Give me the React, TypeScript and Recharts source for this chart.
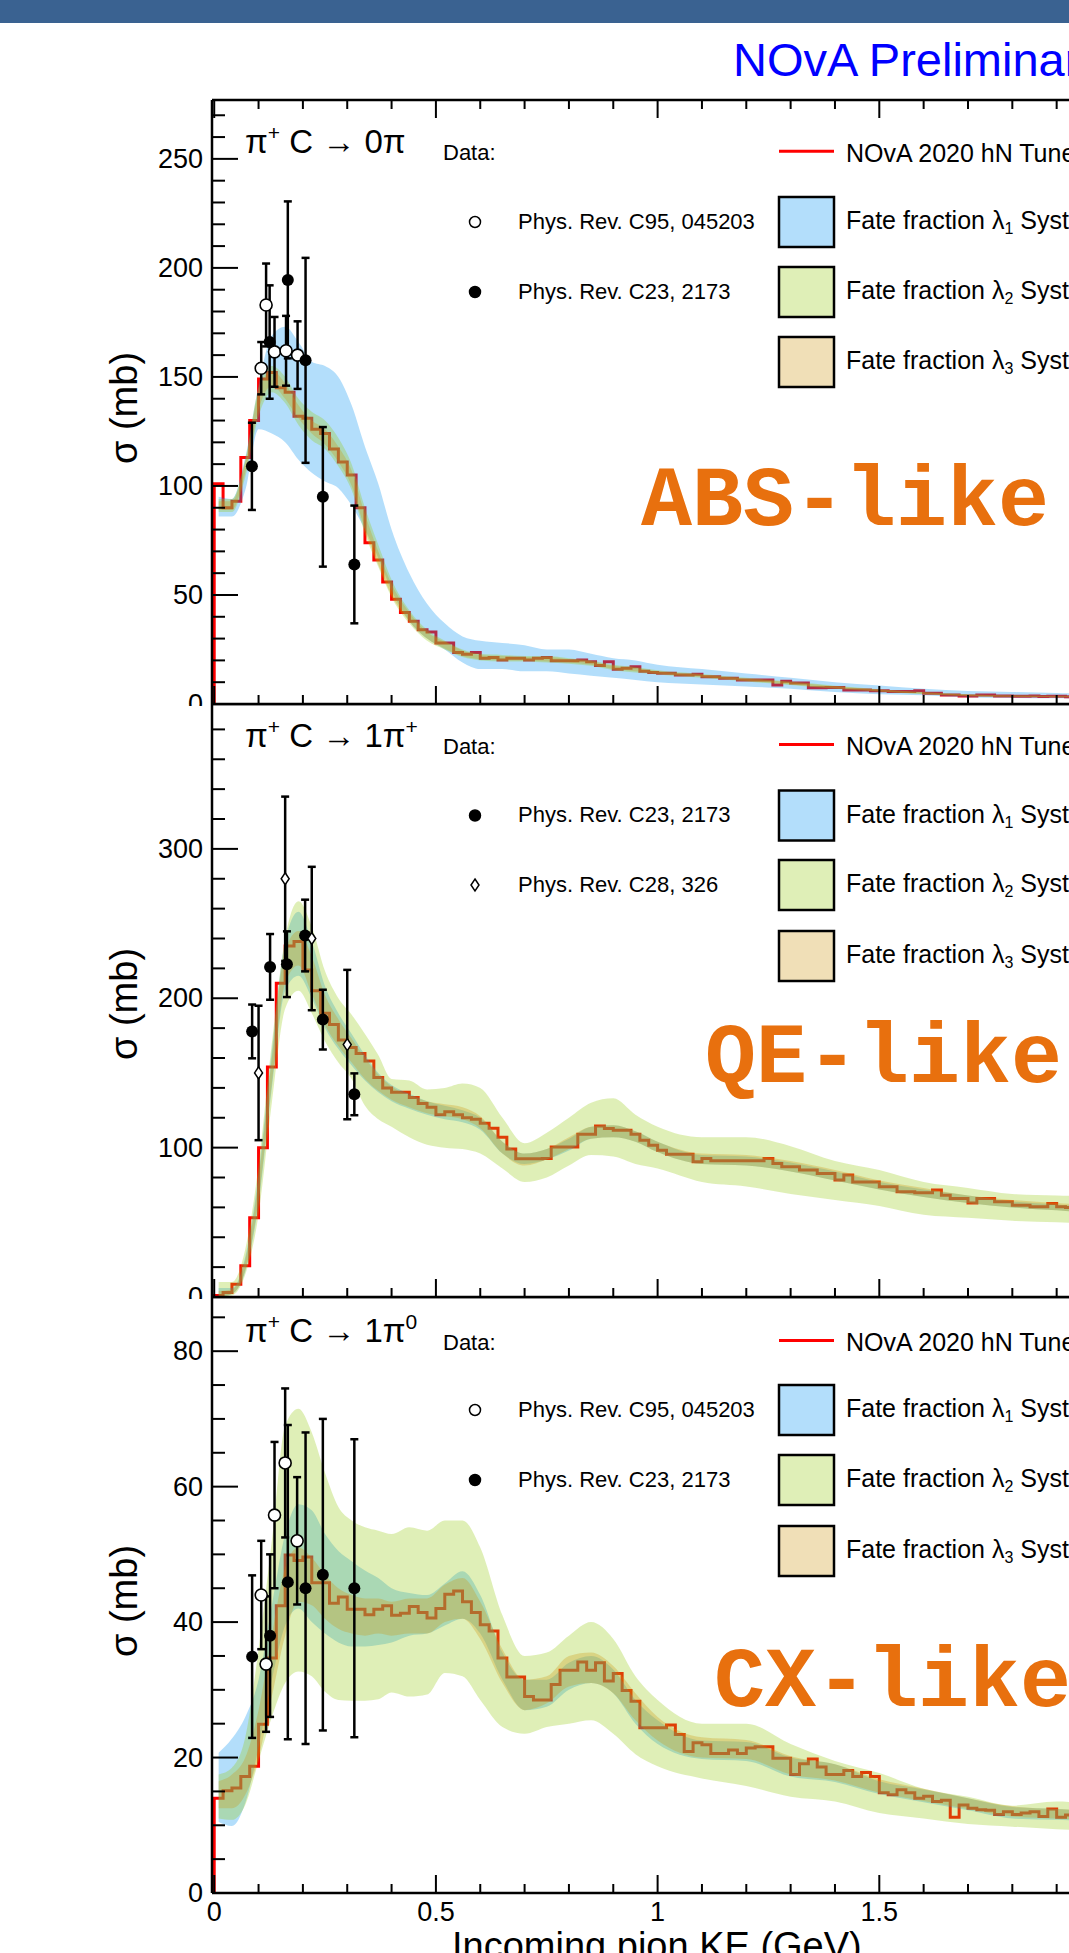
import React from 'react';
import { ComposedChart, Line, Area, Scatter, ErrorBar, XAxis, YAxis } from 'recharts';

// ---------------- data ----------------
const BIN_W = 0.02;

const ABS_BINS = [
  101, 90, 93, 113, 130, 149, 152, 145, 143, 132,
  131, 126, 124, 117, 111, 105, 90, 74, 66, 56,
  48, 42, 38, 34, 33, 28, 28, 23.6, 22.8, 23.6,
  21, 21.3, 20.2, 21, 21, 20.2, 21, 21.3, 19.8, 19.8,
  19.8, 20.2, 19.4, 17.7, 19.4, 15.9, 16.4, 17.1, 15, 14.5,
  14.1, 14.1, 13.3, 13.3, 13.7, 12.5, 12.5, 11.8, 11.8, 11,
  11, 11, 11, 8.7, 10.4, 9.6, 9.6, 7.5, 7.5, 7.6,
  7.6, 6.4, 6.4, 6.4, 6.1, 6.1, 5.7, 5.7, 5.7, 6.1,
  4.9, 4.9, 4.1, 4.1, 3.7, 3.7, 4.1, 4.1, 3.7, 3.7,
  3.5, 3.5, 3.7, 3.4, 3.5, 3.5, 3.3, 3.4, 3.2, 3.2,
];

const QE_BINS = [
  1, 3, 8.5, 21, 53, 100, 154, 210, 235, 238,
  219, 205, 190, 182.5, 172, 167, 163, 158, 147, 140,
  137, 137, 133.6, 129.6, 127, 122, 124, 122, 120, 119,
  116.4, 113, 107, 99, 92.6, 92.6, 92.6, 92.8, 100.5, 100.5,
  100.5, 109, 109, 114.4, 112.8, 111.7, 111.7, 109, 105, 101.6,
  98.2, 95.5, 95.5, 95.5, 90.5, 92.8, 91.3, 91.3, 91.3, 91.3,
  91.3, 91.3, 92.8, 89.4, 87.2, 87.2, 85, 85, 82.7, 82.7,
  78.3, 81.6, 77, 77, 77, 73.8, 73.8, 70.5, 70.5, 69.8,
  69.8, 71.6, 68.2, 66, 66, 63, 66, 66, 63.8, 63.8,
  61.5, 61.5, 60.4, 60.4, 62.6, 60.4, 60, 59, 59, 58,
];

const CX_BINS = [
  14, 15.1, 15.5, 17.2, 18.7, 24.9, 34.7, 42.4, 49.9, 49.1,
  49.6, 45.8, 45.8, 42.8, 43.7, 41.9, 41.9, 41.1, 41.9, 42.4,
  41, 41.3, 42.3, 41.4, 40.6, 42, 44.1, 44.6, 43, 41.4,
  39.6, 38.7, 34.7, 31.9, 31.9, 29, 28.5, 28.5, 30.8, 32.9,
  32.9, 34.1, 32.9, 34.0, 31.3, 32.4, 29.9, 28.3, 24.4, 24.4,
  24.4, 24.8, 23.4, 20.9, 22.2, 21.9, 20.6, 20.6, 21.1, 20.6,
  21.4, 21.6, 21.6, 19.9, 19.9, 17.5, 19.1, 19.8, 18.6, 17.5,
  17.5, 18.1, 17.2, 17.8, 17.2, 14.8, 14.5, 15.25, 14.8, 14.0,
  14.3, 13.5, 13.7, 11.2, 13.0, 12.5, 12.3, 12.2, 11.6, 12.0,
  11.6, 11.8, 12.0, 11.3, 12.4, 11.2, 11.5, 11.3, 11.0, 10.8,
];

const BAND_X = [0.01, 0.04, 0.07, 0.10, 0.13, 0.16, 0.19, 0.22, 0.25, 0.28, 0.31, 0.34, 0.37, 0.40, 0.44, 0.48, 0.52, 0.56, 0.60, 0.65, 0.70, 0.75, 0.80, 0.85, 0.90, 0.95, 1.00, 1.10, 1.20, 1.30, 1.40, 1.50, 1.60, 1.70, 1.80, 1.90, 2.00];

const ABS_BLUE = [[86,95],[86,94],[98,113],[126,146],[124,169],[120,173],[112,166],[106,157],[102,155],[99,150],[91,137],[80,118],[67,101],[52,80],[38,60],[30,46],[25,37],[19,31],[16,29],[16,28],[15,27],[15,25],[14,25],[13,23],[12,21],[11,20],[10,18],[9,16],[8,14],[7,12],[5.5,10],[4.5,8.5],[4,7],[3,6],[2.8,5.5],[2.6,5],[2.5,4.6]];
const ABS_GREEN = [[88,94],[88,94],[104,112],[132,145],[143,155],[138,150],[128,140],[121,134],[117,130],[109,122],[98,110],[78,90],[63,73],[49,57],[37,43],[29,34],[25,29],[21.5,25],[20,23],[19.5,22.5],[19.5,22],[19,22],[18.5,21],[17.5,20],[15.5,18],[14.5,17],[13.5,15.5],[12,13.8],[10.3,12],[8.7,10.3],[7,8.4],[5.6,6.8],[4.5,5.5],[3.6,4.5],[3.2,4],[3.1,3.8],[3,3.6]];
const ABS_TAN = [[89,93],[89,93],[106,111],[135,143],[146,153],[140,147],[131,137],[124,130],[119,126],[111,118],[100,107],[80,87],[64,70],[50,55],[38,42],[30,33],[25.5,28.5],[22,24.5],[20.5,22.5],[20,22],[20,21.5],[19.5,21.5],[19,20.5],[18,19.5],[16,17.5],[15,16.5],[14,15],[12.4,13.4],[10.7,11.6],[9,10],[7.3,8.1],[5.9,6.5],[4.7,5.3],[3.8,4.3],[3.4,3.8],[3.2,3.6],[3.1,3.4]];

const QE_BLUE = [[0,6],[2,6],[17,27],[62,82],[140,165],[205,238],[215,258],[200,238],[180,208],[166,190],[155,176],[145,162],[137,150],[131,142],[126,136],[122,131],[119,128],[117,125],[112,120],[96,104],[89,96],[92,99],[98,106],[106,114],[107,115],[104,111],[97,104],[89,95],[88,94],[84,90],[78,84],[72,77],[67,72],[63,68],[60,64],[58,62],[56,60]];
const QE_GREEN = [[0,10],[1,10],[15,32],[55,88],[130,170],[193,240],[205,265],[190,248],[171,218],[157,200],[146,189],[128,176],[119,162],[114,146],[107,145],[102,139],[100,140],[99,143],[96,140],[86,120],[77,103],[80,110],[88,120],[95,130],[94,133],[89,122],[86,114],[77,107],[74,107],[69,101],[65,91],[61,85],[55,77],[53,73],[51,69],[50,68],[49,67]];
const QE_TAN = [[0,4],[2,5],[18,25],[65,78],[143,160],[210,232],[222,245],[203,228],[182,202],[168,186],[157,173],[146,160],[138,149],[132,141],[127,135],[123,131],[121,129],[119,127],[113,121],[96,104],[88,96],[92,99],[99,107],[106,114],[107,115],[104,111],[97,104],[89,96],[88,95],[84,91],[78,85],[72,78],[67,73],[63,68],[60,65],[58,63],[56,61]];

const CX_BLUE = [[10.5,20.7],[9.9,22.8],[13.3,26],[21.5,31.5],[31.5,42.5],[39.5,53],[42,57.4],[40,56.5],[38.3,53],[37,50.5],[36.4,49],[36.4,47.6],[36.6,46.5],[37,45],[38,44.3],[38.3,44],[39.5,45.7],[40.5,47.5],[38.3,44],[31.5,35.5],[27,31.5],[27.5,31.5],[30,34],[31,35],[29.5,33],[25,28.5],[22,25.5],[19.8,22.5],[19.5,22.3],[17.2,20],[16.4,19],[14.6,16.5],[13.4,15.3],[12.2,14],[11,12.7],[10.8,12.4],[10.6,12]];
const CX_GREEN = [[11,17.5],[10.8,18.5],[13,23],[19.5,36],[26,52],[31,69],[32.7,71.5],[32,68],[29.7,62],[28.5,57],[28.4,55],[28.4,54],[28.6,53.5],[29.6,53],[29,54],[29.3,53.5],[32.5,55],[32,55],[28.5,51],[24.5,41],[23.5,35],[24.5,35.5],[25,38],[25.5,40],[23.5,37.5],[20.5,32],[18.7,28.5],[16.9,25],[15.8,25],[14.2,22],[13.5,19.5],[11.8,17.7],[11,15.4],[10.2,14.2],[9.8,12.9],[9.4,13.5],[9.2,13]];
const CX_TAN = [[12.5,16.5],[12.5,17.5],[14.5,20],[20,27],[29,38],[38,48],[43,51],[42.5,49.5],[40.5,47],[39,45],[38.3,44],[38,43.5],[38.3,43.5],[38,43],[38.3,43.5],[38.3,43.5],[40,45.5],[40.5,46.5],[37.5,43],[31,36],[27,31.5],[28,32],[30.5,35],[31,35.5],[29.5,33.5],[25.5,29.5],[22.5,26],[20,23],[19.8,22.6],[17.5,20.2],[16.6,19],[14.8,16.8],[13.6,15.4],[12.4,14],[11.3,12.8],[11,12.4],[10.8,12.2]];

// measurements: x (GeV), y (mb), e (symmetric error)
const ABS_C95 = [{x:0.106,y:154,e:12},{x:0.117,y:183,e:19},{x:0.136,y:161.5,e:16},{x:0.162,y:162,e:16},{x:0.188,y:160,e:15.5}];
const ABS_C23 = [{x:0.085,y:109,e:20},{x:0.125,y:166,e:26},{x:0.166,y:194.5,e:36},{x:0.206,y:157.6,e:47},{x:0.245,y:95,e:32},{x:0.316,y:64,e:27}];
const QE_C23 = [{x:0.0855,y:177.8,e:18},{x:0.126,y:221,e:22},{x:0.164,y:222.8,e:22},{x:0.205,y:242,e:24},{x:0.245,y:185.7,e:20},{x:0.316,y:135.7,e:14}];
const QE_C28 = [{x:0.1,y:150,e:45},{x:0.16,y:280,e:55},{x:0.22,y:240,e:48},{x:0.3,y:169,e:50}];
const CX_C95 = [{x:0.106,y:44,e:8},{x:0.117,y:33.8,e:10},{x:0.136,y:55.8,e:10.8},{x:0.16,y:63.5,e:11},{x:0.187,y:52,e:9.4}];
const CX_C23 = [{x:0.0855,y:34.9,e:12},{x:0.126,y:38,e:12},{x:0.166,y:45.9,e:23.2},{x:0.206,y:45,e:23},{x:0.245,y:47,e:23},{x:0.316,y:45,e:22}];

const X_TICKS = [0, 0.1, 0.2, 0.3, 0.4, 0.5, 0.6, 0.7, 0.8, 0.9, 1, 1.1, 1.2, 1.3, 1.4, 1.5, 1.6, 1.7, 1.8, 1.9, 2];
const X_MAJOR = [0, 0.5, 1, 1.5, 2];
const X_LABELS = ['0', '0.5', '1', '1.5', '2'];
const ABS_Y_TICKS = [0,10,20,30,40,50,60,70,80,90,100,110,120,130,140,150,160,170,180,190,200,210,220,230,240,250,260,270];
const ABS_Y_MAJOR = [0, 50, 100, 150, 200, 250];
const QE_Y_TICKS = [0,20,40,60,80,100,120,140,160,180,200,220,240,260,280,300,320,340,360,380];
const QE_Y_MAJOR = [0, 100, 200, 300];
const CX_Y_TICKS = [0,5,10,15,20,25,30,35,40,45,50,55,60,65,70,75,80,85];
const CX_Y_MAJOR = [0, 20, 40, 60, 80];

// ---------------- style ----------------
const FONT = '"Liberation Sans", Arial, Helvetica, sans-serif';
const MONO = '"Courier New", "Liberation Mono", monospace';
const CHART_W = 1130;
const PL = 212;   // plot left
const PR = 1101;  // plot right (x = 2 GeV)
const VIEW_W = 1069;
const AXIS = { stroke: '#000', strokeWidth: 2.5 };
const BAND_ALPHA = 0.3;
const C_BLUE = '#0291f2';
const C_GREEN = '#94ca0f';
const C_TAN = '#cd940f';
const L_BLUE = '#b3defb';
const L_GREEN = '#dfefb7';
const L_TAN = '#f0dfb7';
const ORANGE = '#e8700e';

const FilledDot = (p: any) => <circle cx={p.cx} cy={p.cy} r={6} fill="#000" />;
const OpenDot = (p: any) => <circle cx={p.cx} cy={p.cy} r={6} fill="#fff" stroke="#000" strokeWidth={1.6} />;
const DiamondDot = (p: any) => (
  <path d={`M${p.cx},${p.cy - 6}L${p.cx + 4},${p.cy}L${p.cx},${p.cy + 6}L${p.cx - 4},${p.cy}Z`} fill="#fff" stroke="#000" strokeWidth={1.5} />
);
const SHAPES: any = { filled: FilledDot, open: OpenDot, diamond: DiamondDot };

const PANELS = [
  { key: 'abs', divTop: 24, divH: 682, frameTop: 100, axisY: 704, yMax: 277, bins: ABS_BINS,
    blue: ABS_BLUE, green: ABS_GREEN, tan: ABS_TAN, yTicks: ABS_Y_TICKS, yMajor: ABS_Y_MAJOR,
    points: [{ data: ABS_C95, shape: 'open' }, { data: ABS_C23, shape: 'filled' }], xLabels: false, topTicks: true },
  { key: 'qe', divTop: 703, divH: 596, frameTop: 704, axisY: 1297, yMax: 397, bins: QE_BINS,
    blue: QE_BLUE, green: QE_GREEN, tan: QE_TAN, yTicks: QE_Y_TICKS, yMajor: QE_Y_MAJOR,
    points: [{ data: QE_C23, shape: 'filled' }, { data: QE_C28, shape: 'diamond' }], xLabels: false, topTicks: false },
  { key: 'cx', divTop: 1296, divH: 657, frameTop: 1297, axisY: 1893, yMax: 88, bins: CX_BINS,
    blue: CX_BLUE, green: CX_GREEN, tan: CX_TAN, yTicks: CX_Y_TICKS, yMajor: CX_Y_MAJOR,
    points: [{ data: CX_C95, shape: 'open' }, { data: CX_C23, shape: 'filled' }], xLabels: true, topTicks: false },
];

const isMajorX = (v: number) => X_MAJOR.some((m) => Math.abs(m - v) < 1e-6);

function Panel({ cfg }: any) {
  const lineData = [{ x: 0, v: 0 }, ...cfg.bins.map((v: number, i: number) => ({ x: Math.round(i * BIN_W * 100) / 100, v })), { x: 2, v: cfg.bins[cfg.bins.length - 1] }];
  const bandData = BAND_X.map((x, i) => ({ x, blue: cfg.blue[i], green: cfg.green[i], tan: cfg.tan[i] }));
  const ft = cfg.frameTop - cfg.divTop;
  const ay = cfg.axisY - cfg.divTop;

  const yTick = (p: any) => {
    const v = p.payload.value;
    const major = cfg.yMajor.includes(v);
    return (
      <g>
        <line x1={PL} x2={PL + (major ? 26 : 13)} y1={p.y} y2={p.y} stroke="#000" strokeWidth={2} />
        {major && (
          <text x={PL - 9} y={p.y} textAnchor="end" dominantBaseline="central" fontSize={27} fontFamily={FONT} fill="#000">{v}</text>
        )}
      </g>
    );
  };
  const xTick = (p: any) => {
    const v = p.payload.value;
    const major = isMajorX(v);
    const idx = X_MAJOR.findIndex((m) => Math.abs(m - v) < 1e-6);
    return (
      <g>
        <line x1={p.x} x2={p.x} y1={ay} y2={ay - (major ? 18 : 9)} stroke="#000" strokeWidth={2} />
        {cfg.xLabels && major && p.x < VIEW_W - 10 && (
          <text x={p.x} y={ay + 28} textAnchor="middle" fontSize={27} fontFamily={FONT} fill="#000">{X_LABELS[idx]}</text>
        )}
      </g>
    );
  };
  const topTick = (p: any) => {
    const v = p.payload.value;
    const major = isMajorX(v);
    if (!cfg.topTicks) return <g />;
    return <line x1={p.x} x2={p.x} y1={ft} y2={ft + (major ? 18 : 9)} stroke="#000" strokeWidth={2} />;
  };

  return (
    <div style={{ position: 'absolute', left: 0, top: cfg.divTop, width: VIEW_W, height: cfg.divH, overflow: 'hidden' }}>
      <ComposedChart width={CHART_W} height={cfg.divH} margin={{ top: 0, right: CHART_W - PR, bottom: 0, left: 0 }}>
        <XAxis type="number" dataKey="x" domain={[-0.005, 2]} ticks={X_TICKS} interval={0} allowDataOverflow
          height={cfg.divH - ay} tickLine={false} axisLine={AXIS} tick={xTick} />
        <XAxis xAxisId="top" orientation="top" type="number" dataKey="x" domain={[-0.005, 2]} ticks={X_TICKS} interval={0}
          allowDataOverflow height={ft} tickLine={false} axisLine={AXIS} tick={topTick} />
        <YAxis type="number" domain={[0, cfg.yMax]} ticks={cfg.yTicks} interval={0} allowDataOverflow width={PL}
          tickLine={false} axisLine={AXIS} tick={yTick} />
        <Line data={lineData} dataKey="v" type="stepAfter" stroke="#ff0000" strokeWidth={3} dot={false} activeDot={false}
          isAnimationActive={false} zIndex={50} />
        <Area data={bandData} dataKey="blue" type="monotone" stroke="none" fill={C_BLUE} fillOpacity={BAND_ALPHA}
          dot={false} activeDot={false} isAnimationActive={false} />
        <Area data={bandData} dataKey="green" type="monotone" stroke="none" fill={C_GREEN} fillOpacity={BAND_ALPHA}
          dot={false} activeDot={false} isAnimationActive={false} />
        <Area data={bandData} dataKey="tan" type="monotone" stroke="none" fill={C_TAN} fillOpacity={BAND_ALPHA}
          dot={false} activeDot={false} isAnimationActive={false} />
        {cfg.points.map((s: any, i: number) => (
          <Scatter key={i} data={s.data} dataKey="y" shape={SHAPES[s.shape]} isAnimationActive={false}>
            <ErrorBar dataKey="e" direction="y" width={4} stroke="#000" strokeWidth={2.5} />
          </Scatter>
        ))}
      </ComposedChart>
    </div>
  );
}

const LEGENDS = [
  { rows: [152.7, 222, 292, 362], data: [{ label: 'Phys. Rev. C95, 045203', shape: 'open' }, { label: 'Phys. Rev. C23, 2173', shape: 'filled' }] },
  { rows: [746, 815.5, 885, 956], data: [{ label: 'Phys. Rev. C23, 2173', shape: 'filled' }, { label: 'Phys. Rev. C28, 326', shape: 'diamond' }] },
  { rows: [1342, 1410, 1480, 1551], data: [{ label: 'Phys. Rev. C95, 045203', shape: 'open' }, { label: 'Phys. Rev. C23, 2173', shape: 'filled' }] },
];
const TITLES = [
  { y: 153, end: '0π', sup2: '' },
  { y: 747, end: '1π', sup2: '+' },
  { y: 1342, end: '1π', sup2: '0' },
];
const BIG = [
  { text: 'ABS-like', x: 641, y: 525 },
  { text: 'QE-like', x: 705, y: 1082 },
  { text: 'CX-like', x: 714, y: 1706 },
];
const YLAB_Y = [408, 1004, 1601];
const BOX_FILLS = [L_BLUE, L_GREEN, L_TAN];
const SUBS = ['1', '2', '3'];

function Overlay() {
  return (
    <svg width={VIEW_W} height={1953} style={{ position: 'absolute', left: 0, top: 0, pointerEvents: 'none' }}>
      <rect x={0} y={0} width={VIEW_W} height={23} fill="#3a6291" />
      <text x={733} y={76} fontSize={47} fontFamily={FONT} fill="#0000ff">NOvA Preliminary</text>
      {YLAB_Y.map((y, i) => (
        <text key={i} x={124} y={y} transform={`rotate(-90 124 ${y})`} textAnchor="middle" dominantBaseline="central"
          fontSize={38} fontFamily={FONT} fill="#000">σ (mb)</text>
      ))}
      {TITLES.map((t, i) => (
        <text key={i} x={245} y={t.y} fontSize={33} fontFamily={FONT} fill="#000">
          π<tspan dy={-13} fontSize={21}>+</tspan><tspan dy={13}>{' C → ' + t.end}</tspan>
          {t.sup2 && <tspan dy={-13} fontSize={21}>{t.sup2}</tspan>}
        </text>
      ))}
      {LEGENDS.map((lg, i) => (
        <g key={i}>
          <text x={443} y={lg.rows[0]} dominantBaseline="central" fontSize={22} fontFamily={FONT} fill="#000">Data:</text>
          {lg.data.map((d, j) => {
            const y = lg.rows[j + 1];
            return (
              <g key={j}>
                {d.shape === 'diamond'
                  ? <path d={`M475,${y - 6}L479,${y}L475,${y + 6}L471,${y}Z`} fill="#fff" stroke="#000" strokeWidth={1.5} />
                  : <circle cx={475} cy={y} r={5.5} fill={d.shape === 'filled' ? '#000' : '#fff'} stroke="#000" strokeWidth={1.5} />}
                <text x={518} y={y - 1} dominantBaseline="central" fontSize={22} fontFamily={FONT} fill="#000">{d.label}</text>
              </g>
            );
          })}
          <line x1={779} x2={834} y1={lg.rows[0] - 1.5} y2={lg.rows[0] - 1.5} stroke="#ff0000" strokeWidth={3} />
          <text x={846} y={lg.rows[0]} dominantBaseline="central" fontSize={25} fontFamily={FONT} fill="#000">NOvA 2020 hN Tune</text>
          {[1, 2, 3].map((r) => (
            <g key={r}>
              <rect x={779} y={lg.rows[r] - 25} width={55} height={50} fill={BOX_FILLS[r - 1]} stroke="#000" strokeWidth={2.5} />
              <text x={846} y={lg.rows[r] - 2} dominantBaseline="central" fontSize={25} fontFamily={FONT} fill="#000">
                Fate fraction λ<tspan dy={8} fontSize={16}>{SUBS[r - 1]}</tspan><tspan dy={-8}> Syst</tspan>
              </text>
            </g>
          ))}
        </g>
      ))}
      {BIG.map((b, i) => (
        <text key={i} x={b.x} y={b.y} fontSize={85} fontWeight="bold" fontFamily={MONO} fill={ORANGE}>{b.text}</text>
      ))}
      <text x={452} y={1959} fontSize={38} fontFamily={FONT} fill="#000">Incoming pion KE (GeV)</text>
    </svg>
  );
}

export default function App() {
  return (
    <div style={{ position: 'absolute', left: 0, top: 0, width: VIEW_W, height: 1953, overflow: 'hidden', background: '#fff' }}>
      {PANELS.map((p) => <Panel key={p.key} cfg={p} />)}
      <Overlay />
    </div>
  );
}
